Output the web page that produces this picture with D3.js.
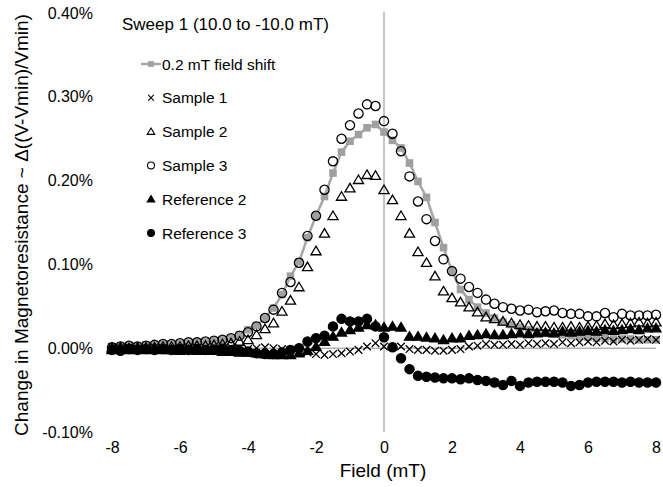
<!DOCTYPE html>
<html>
<head>
<meta charset="utf-8">
<script src="https://cdn.jsdelivr.net/npm/d3@7"></script>
<style>
  body { margin: 0; background: #fff; }
  svg { font-family: "Liberation Sans", Arial, sans-serif; }
</style>
</head>
<body>
<svg width="663" height="487"></svg>
<script>
// field values (mT)
const field = [-8, -7.75, -7.5, -7.25, -7, -6.75, -6.5, -6.25, -6, -5.75, -5.5, -5.25, -5, -4.75, -4.5, -4.25,
  -4, -3.75, -3.5, -3.25, -3, -2.75, -2.5, -2.25, -2, -1.75, -1.5, -1.25, -1, -0.75, -0.5, -0.25,
  0, 0.25, 0.5, 0.75, 1, 1.25, 1.5, 1.75, 2, 2.25, 2.5, 2.75, 3, 3.25, 3.5, 3.75,
  4, 4.25, 4.5, 4.75, 5, 5.25, 5.5, 5.75, 6, 6.25, 6.5, 6.75, 7, 7.25, 7.5, 7.75, 8];

// values in percent
const shift = [0.002, 0.003, 0.003, 0.003, 0.004, 0.004, 0.005, 0.005, 0.006, 0.006, 0.007, 0.008, 0.009, 0.010, 0.012, 0.016,
  0.022, 0.027, 0.036, 0.048, 0.064, 0.086, 0.103, 0.132, 0.158, 0.181, 0.209, 0.234, 0.247, 0.255, 0.263, 0.267,
  0.258, 0.248, 0.239, 0.221, 0.199, 0.180, 0.150, 0.120, 0.092, 0.070, 0.058, 0.049, 0.042, 0.036, 0.031, 0.028,
  0.025, 0.022, 0.020, 0.018, 0.017, 0.016, 0.015, 0.014, 0.013, 0.012, 0.012, 0.011, 0.011, 0.011, 0.010, 0.010, 0.010];

const sample1 = [0.001, 0.000, 0.001, -0.001, 0.000, 0.001, 0.000, -0.001, 0.000, 0.001, 0.000, 0.000, -0.001, 0.000, 0.001, 0.000,
  -0.001, 0.000, 0.001, 0.000, -0.001, -0.002, -0.003, -0.005, -0.007, -0.008, -0.007, -0.006, -0.004, -0.002, 0.002, 0.006,
  0.002, 0.001, 0.002, -0.001, -0.002, -0.002, -0.003, -0.003, -0.002, -0.001, 0.002, 0.003, 0.005, 0.004, 0.004, 0.005,
  0.004, 0.006, 0.005, 0.006, 0.005, 0.007, 0.006, 0.007, 0.008, 0.007, 0.009, 0.008, 0.010, 0.009, 0.010, 0.011, 0.010];

const sample2 = [0.000, 0.001, 0.000, 0.001, 0.001, 0.001, 0.002, 0.002, 0.002, 0.003, 0.003, 0.003, 0.004, 0.005, 0.006, 0.008,
  0.010, 0.016, 0.023, 0.030, 0.044, 0.057, 0.073, 0.097, 0.116, 0.137, 0.158, 0.181, 0.191, 0.201, 0.207, 0.206,
  0.189, 0.177, 0.158, 0.137, 0.115, 0.102, 0.086, 0.068, 0.060, 0.055, 0.049, 0.043, 0.037, 0.035, 0.032, 0.030,
  0.028, 0.027, 0.026, 0.026, 0.025, 0.025, 0.026, 0.025, 0.026, 0.027, 0.029, 0.028, 0.029, 0.030, 0.031, 0.030, 0.031];

const sample3 = [0.001, 0.002, 0.003, 0.002, 0.003, 0.004, 0.005, 0.005, 0.006, 0.007, 0.007, 0.008, 0.009, 0.010, 0.012, 0.015,
  0.019, 0.026, 0.036, 0.046, 0.066, 0.079, 0.102, 0.134, 0.158, 0.189, 0.223, 0.250, 0.266, 0.280, 0.291, 0.289,
  0.271, 0.256, 0.235, 0.205, 0.175, 0.154, 0.128, 0.106, 0.092, 0.083, 0.073, 0.066, 0.058, 0.053, 0.049, 0.047,
  0.045, 0.046, 0.043, 0.044, 0.045, 0.042, 0.041, 0.041, 0.038, 0.038, 0.042, 0.037, 0.041, 0.039, 0.039, 0.039, 0.040];

const reference2 = [-0.002, -0.001, -0.002, -0.001, -0.002, -0.001, -0.002, -0.002, -0.003, -0.002, -0.003, -0.003, -0.003, -0.004, -0.004, -0.005,
  -0.005, -0.006, -0.007, -0.008, -0.008, -0.008, -0.006, -0.003, 0.002, 0.008, 0.014, 0.019, 0.022, 0.025, 0.028, 0.028,
  0.025, 0.026, 0.025, 0.014, 0.014, 0.013, 0.012, 0.010, 0.012, 0.012, 0.015, 0.016, 0.017, 0.016, 0.016, 0.017,
  0.018, 0.017, 0.018, 0.019, 0.018, 0.020, 0.019, 0.020, 0.021, 0.020, 0.022, 0.021, 0.022, 0.023, 0.022, 0.024, 0.024];

const reference3 = [-0.002, -0.003, -0.001, -0.002, -0.001, -0.002, -0.001, -0.002, -0.001, -0.002, -0.001, -0.002, -0.002, -0.001, -0.002, -0.003,
  -0.004, -0.006, -0.007, -0.007, -0.005, -0.002, 0.000, 0.008, 0.012, 0.015, 0.026, 0.035, 0.032, 0.032, 0.035, 0.026,
  0.013, 0.001, -0.012, -0.025, -0.033, -0.034, -0.035, -0.036, -0.036, -0.037, -0.036, -0.038, -0.039, -0.041, -0.044, -0.039,
  -0.045, -0.041, -0.040, -0.040, -0.040, -0.041, -0.045, -0.044, -0.041, -0.040, -0.040, -0.040, -0.041, -0.040, -0.041, -0.041, -0.041];

const yTicks = [-0.1, 0, 0.1, 0.2, 0.3, 0.4];
const xTicks = [-8, -6, -4, -2, 0, 2, 4, 6, 8];
const legendTitle = "Sweep 1 (10.0 to -10.0 mT)";

const svg = d3.select("svg");

const x = d3.scaleLinear().domain([-8, 8]).range([112, 656]);
const y = d3.scaleLinear().domain([-0.1, 0.4]).range([432, 13]);

// plain hyphen instead of d3's unicode minus
const hyphen = s => s.replace("\u2212", "-");

// marker shapes
const shapes = {
  square: r => `M${-r},${-r}H${r}V${r}H${-r}Z`,
  circle: r => `M${-r},0A${r},${r} 0 1,0 ${r},0A${r},${r} 0 1,0 ${-r},0Z`,
  triangle: r => `M0,${-r}L${r * 1.05},${r * 0.78}L${-r * 1.05},${r * 0.78}Z`,
  cross: r => `M${-r},${-r}L${r},${r}M${-r},${r}L${r},${-r}`
};

const series = [
  { name: "0.2 mT field shift", values: shift, shape: "square", r: 3.8, fill: "#a0a0a0", stroke: "none", line: true },
  { name: "Sample 1", values: sample1, shape: "cross", r: 3.8, fill: "none", stroke: "#000" },
  { name: "Sample 2", values: sample2, shape: "triangle", r: 4.8, fill: "none", stroke: "#000" },
  { name: "Sample 3", values: sample3, shape: "circle", r: 4.6, fill: "none", stroke: "#000" },
  { name: "Reference 2", values: reference2, shape: "triangle", r: 4.8, fill: "#000", stroke: "#000" },
  { name: "Reference 3", values: reference3, shape: "circle", r: 4.6, fill: "#000", stroke: "#000" }
];

// axes lines through zero
svg.append("line")
  .attr("x1", x(-8)).attr("x2", x(8))
  .attr("y1", y(0)).attr("y2", y(0))
  .attr("stroke", "#8c8c8c").attr("stroke-width", 1);

svg.append("line")
  .attr("x1", x(0)).attr("x2", x(0))
  .attr("y1", y(0.4) - 1).attr("y2", y(-0.1))
  .attr("stroke", "#8c8c8c").attr("stroke-width", 1);

// y axis labels
const yAxis = d3.axisLeft(y)
  .tickValues(yTicks)
  .tickSize(0)
  .tickPadding(19)
  .tickFormat(d => hyphen(d3.format(".2f")(d)) + "%");

svg.append("g")
  .attr("transform", `translate(${x(-8)},0)`)
  .call(yAxis)
  .call(g => g.select(".domain").remove())
  .selectAll("text")
  .attr("font-size", 16)
  .attr("font-family", "Liberation Sans, Arial, sans-serif")
  .attr("fill", "#000");

// x axis labels
const xAxis = d3.axisBottom(x)
  .tickValues(xTicks)
  .tickSize(0)
  .tickPadding(10)
  .tickFormat(d => hyphen(d3.format("d")(d)));

svg.append("g")
  .attr("transform", `translate(0,${y(-0.1)})`)
  .call(xAxis)
  .call(g => g.select(".domain").remove())
  .selectAll("text")
  .attr("font-size", 16)
  .attr("font-family", "Liberation Sans, Arial, sans-serif")
  .attr("fill", "#000");

// axis titles
svg.append("text")
  .attr("x", x(0) - 1)
  .attr("y", 477)
  .attr("text-anchor", "middle")
  .attr("font-size", 19)
  .text("Field (mT)");

svg.append("text")
  .attr("transform", "translate(28,225) rotate(-90)")
  .attr("text-anchor", "middle")
  .attr("font-size", 19)
  .text("Change in Magnetoresistance ~ \u0394((V-Vmin)/Vmin)");

// series
series.forEach(s => {
  const pts = field.map((f, i) => [f, s.values[i]]);
  if (s.line) {
    svg.append("path")
      .datum(pts)
      .attr("fill", "none")
      .attr("stroke", "#a6a6a6")
      .attr("stroke-width", 2.5)
      .attr("d", d3.line().x(d => x(d[0])).y(d => y(d[1])));
  }
  svg.append("g")
    .selectAll("path")
    .data(pts)
    .join("path")
    .attr("transform", d => `translate(${x(d[0])},${y(d[1])})`)
    .attr("d", shapes[s.shape](s.r))
    .attr("fill", s.fill)
    .attr("stroke", s.stroke)
    .attr("stroke-width", 1.3);
});

// legend
svg.append("text")
  .attr("x", 122)
  .attr("y", 30)
  .attr("font-size", 17)
  .text(legendTitle);

const legend = svg.append("g").attr("class", "legend");
series.forEach((s, i) => {
  const ly = 64 + i * 33.8;
  const g = legend.append("g").attr("transform", `translate(0,${ly})`);
  if (s.line) {
    g.append("line")
      .attr("x1", 141).attr("x2", 161)
      .attr("stroke", "#a6a6a6").attr("stroke-width", 2.5);
  }
  g.append("path")
    .attr("transform", "translate(151,0)")
    .attr("d", shapes[s.shape](s.r * 0.75))
    .attr("fill", s.fill)
    .attr("stroke", s.stroke)
    .attr("stroke-width", 1.1);
  g.append("text")
    .attr("x", 162)
    .attr("y", 5.5)
    .attr("font-size", 15.5)
    .text(s.name);
});
</script>
</body>
</html>
